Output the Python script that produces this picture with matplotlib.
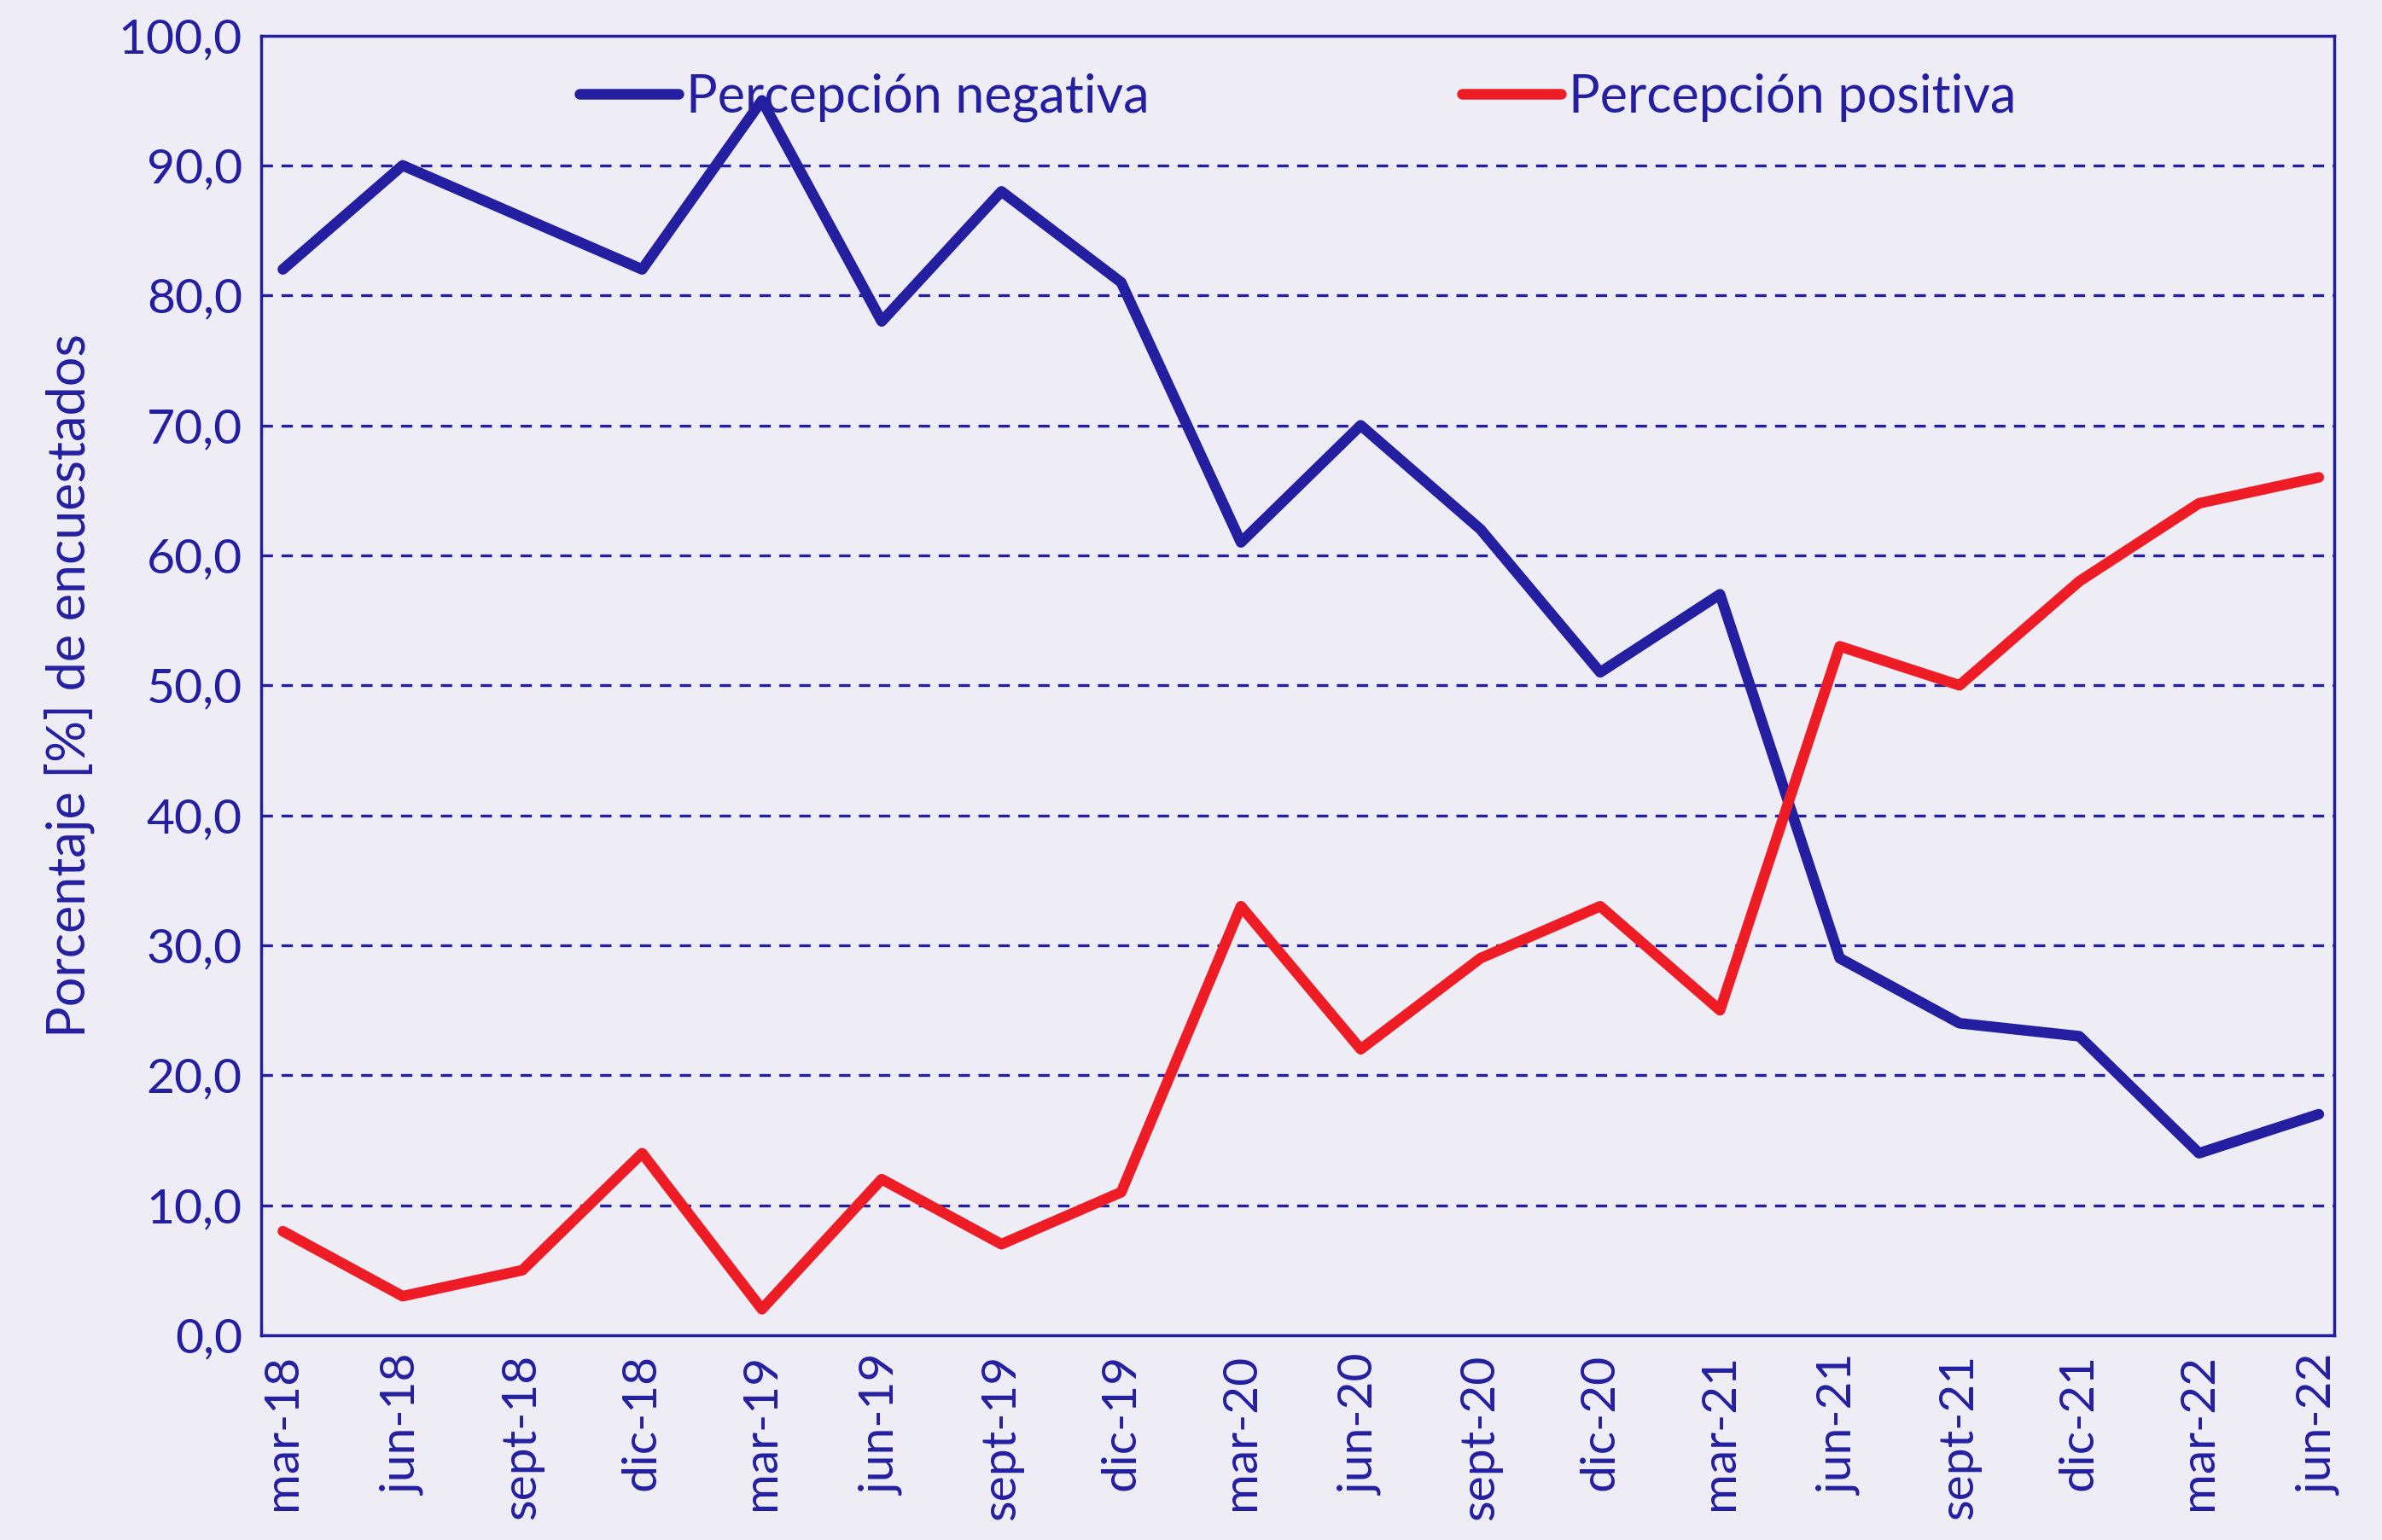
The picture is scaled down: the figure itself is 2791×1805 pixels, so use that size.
import matplotlib
matplotlib.use('Agg')
import matplotlib.pyplot as plt
from matplotlib.ticker import FuncFormatter


periodos = ['mar-18', 'jun-18', 'sept-18', 'dic-18', 'mar-19', 'jun-19', 'sept-19', 'dic-19',
            'mar-20', 'jun-20', 'sept-20', 'dic-20', 'mar-21', 'jun-21', 'sept-21', 'dic-21',
            'mar-22', 'jun-22']
negativa = [82, 90, 86, 82, 95, 78, 88, 81, 61, 70, 62, 51, 57, 29, 24, 23, 14, 17]
positiva = [8, 3, 5, 14, 2, 12, 7, 11, 33, 22, 29, 33, 25, 53, 50, 58, 64, 66]

AZUL = '#231FA0'
ROJO = '#EE1C25'
FONDO = '#EEEDF6'

plt.rcParams['font.family'] = ['Lato', 'DejaVu Sans']


def plot():
    fig = plt.figure(figsize=(27.91, 18.05), dpi=100, facecolor=FONDO)
    ax = fig.add_axes([0.1097, 0.133, 0.8703, 0.844])
    ax.set_facecolor(FONDO)

    x = range(len(periodos))
    ax.plot(x, negativa, color=AZUL, lw=9, label='Percepción negativa', solid_capstyle='round')
    ax.plot(x, positiva, color=ROJO, lw=9, label='Percepción positiva', solid_capstyle='round')

    ax.set_xlim(-0.18, 17.13)
    ax.set_ylim(0, 100)
    ax.set_yticks(range(0, 101, 10))
    ax.yaxis.set_major_formatter(FuncFormatter(lambda v, p: f'{v:.1f}'.replace('.', ',')))
    ax.set_xticks(list(x))
    ax.set_xticklabels(periodos, rotation=90)

    for y in range(10, 100, 10):
        ax.axhline(y, color=AZUL, lw=2.4, ls=(0, (4, 3)), zorder=0)

    for s in ax.spines.values():
        s.set_color(AZUL)
        s.set_linewidth(2.5)

    ax.tick_params(length=0, colors=AZUL, labelsize=41, pad=16)
    ax.set_ylabel('Porcentaje [%] de encuestados', color=AZUL, fontsize=44, labelpad=20)

    leg = ax.legend(loc='upper center', bbox_to_anchor=(0.5, 1.007), ncol=2, frameon=False,
                    fontsize=44, handlelength=1.9, columnspacing=6.0, handletextpad=0.15)
    for t in leg.get_texts():
        t.set_color(AZUL)

    fig.savefig('out.png', dpi=100, facecolor=FONDO)


if __name__ == '__main__':
    plot()
